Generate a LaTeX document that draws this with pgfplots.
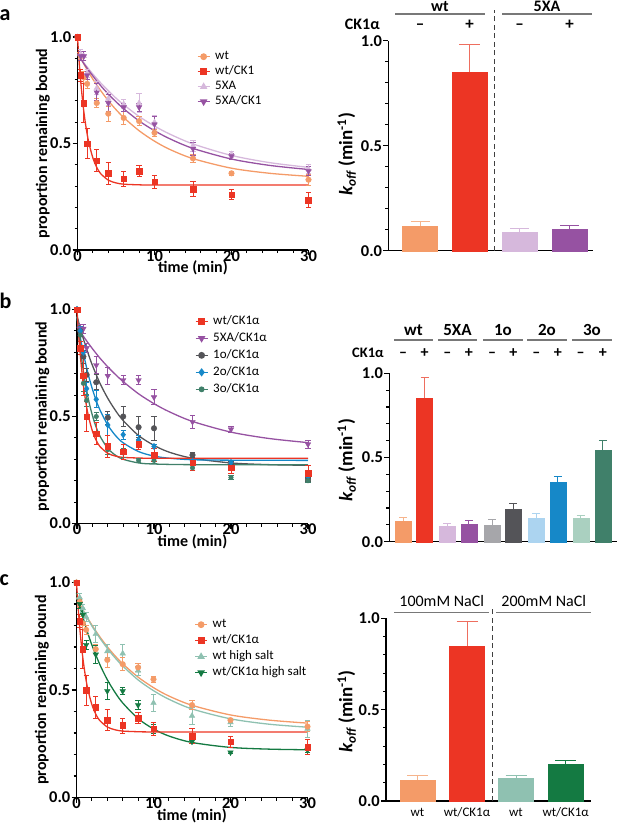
\documentclass[border=0pt]{standalone}
\usepackage{fontspec}
\setmainfont{Carlito}
\usepackage{pgfplots}
\pgfplotsset{compat=1.18}

\definecolor{wtC}{RGB}{244,155,104}
\definecolor{wtE}{RGB}{246,180,140}
\definecolor{redC}{RGB}{236,53,36}
\definecolor{redE}{RGB}{238,110,95}
\definecolor{lilC}{RGB}{214,184,220}
\definecolor{purC}{RGB}{150,82,162}
\definecolor{g1l}{RGB}{166,166,170}
\definecolor{g1d}{RGB}{84,84,88}
\definecolor{bl}{RGB}{172,212,240}
\definecolor{bd}{RGB}{22,136,200}
\definecolor{tl}{RGB}{170,208,192}
\definecolor{td}{RGB}{64,128,106}
\definecolor{hsl}{RGB}{143,193,177}
\definecolor{hsd}{RGB}{20,122,66}
\definecolor{grpline}{RGB}{120,120,120}

\tikzset{grp/.style={draw=grpline, line width=1.2pt}}
\newcommand{\tkf}{\fontsize{16.5}{17}\selectfont\bfseries}

\pgfplotsset{
 base/.style={scale only axis, clip=false,
   axis x line*=bottom, axis y line*=left,
   axis line style={line width=1.3pt, black},
   tick align=outside, major tick length=5pt, minor tick length=3pt,
   every tick/.style={black, line width=1.1pt},
   /pgf/number format/assume math mode=true,
   ymin=0, ymax=1, ytick={0,0.5,1},
   minor ytick={0.1,0.2,0.3,0.4,0.6,0.7,0.8,0.9},
   yticklabel={\tkf\pgfmathprintnumber[fixed,fixed zerofill,precision=1]{\tick}},
   xticklabel={\tkf\pgfmathprintnumber{\tick}},
   yticklabel style={inner xsep=0pt, xshift=-1pt},
   xticklabel style={inner ysep=0pt, yshift=5pt},
 },
 decay/.style={base, width=231pt, xmin=0, xmax=30, xtick={0,10,20,30},
   minor xtick={2,4,6,8,12,14,16,18,22,24,26,28},
   xlabel={time (min)}, ylabel={proportion remaining bound},
   label style={font=\fontsize{16}{18}\selectfont\bfseries},
   xlabel style={at={(axis description cs:0.5,-0.084)}, anchor=center},
   ylabel style={at={(axis description cs:-0.15,0.5)}, anchor=center},
   legend cell align=left,
   legend style={draw=none, fill=none, inner sep=0pt, anchor=north west,
     font=\fontsize{13}{14}\selectfont, column sep=3pt,
     nodes={inner ysep=0.5pt, inner xsep=2pt, text height=9pt, text depth=3pt}},
   legend image code/.code={\draw[mark repeat=2, mark phase=2, line width=1.2pt, ##1] plot coordinates {(0pt,0pt) (6pt,0pt) (12pt,0pt)};},
 },
 bars/.style={base, xmin=0, xtick=\empty,
   ylabel={{\itshape k}\textsubscript{\itshape off} (min\textsuperscript{-1})},
   label style={font=\fontsize{19}{21}\selectfont\bfseries},
 },
 mk/.style={only marks, color=#1, mark size=2.8pt, forget plot,
   /pgfplots/error bars/y dir=both, /pgfplots/error bars/y explicit,
   /pgfplots/error bars/error bar style={line width=0.9pt, draw=#1, solid},
   /pgfplots/error bars/error mark options={rotate=90, mark size=2.6pt, line width=0.9pt, draw=#1, solid}},
 fitc/.style={color=#1, line width=1.3pt, smooth, no marks, forget plot},
 bar/.style n args={3}{ybar, bar shift=0pt, fill=#1, draw=#1, line width=0.1pt, forget plot,
   /pgfplots/error bars/y dir=plus, /pgfplots/error bars/y explicit,
   /pgfplots/error bars/error bar style={line width=1pt, draw=#2},
   /pgfplots/error bars/error mark options={rotate=90, mark size=#3, line width=1pt, draw=#2}},
}

\begin{document}
\begin{tikzpicture}

% ===================== panel a, left =====================
\begin{axis}[decay, at={(77.5pt,-250pt)}, anchor=south west, height=213pt,
  legend style={at={(axis cs:15.5,0.939)}, row sep=2pt}]
\addplot[fitc=wtC] coordinates {(0,0.93) (1,0.862) (2,0.802) (3,0.749) (4,0.701) (5,0.659) (6,0.622) (8,0.560) (10,0.511) (12,0.472) (15,0.429) (20,0.384) (25,0.360) (30,0.346)};
\addplot[fitc=lilC] coordinates {(0,0.92) (1,0.871) (2,0.826) (3,0.785) (4,0.748) (5,0.713) (6,0.682) (8,0.627) (10,0.582) (12,0.544) (15,0.498) (20,0.444) (25,0.410) (30,0.388)};
\addplot[fitc=purC] coordinates {(0,0.92) (1,0.866) (2,0.817) (3,0.772) (4,0.732) (5,0.696) (6,0.663) (8,0.606) (10,0.560) (12,0.522) (15,0.477) (20,0.427) (25,0.397) (30,0.378)};
\addplot[fitc=redC] coordinates {(0,1.0) (0.25,0.867) (0.5,0.759) (0.75,0.672) (1,0.602) (1.25,0.545) (1.5,0.499) (2,0.432) (2.5,0.388) (3,0.359) (4,0.328) (5,0.315) (6,0.309) (8,0.306) (10,0.305) (20,0.305) (30,0.305)};
\addplot[mk=wtC, mark=*] coordinates {(0,1.0)+-(0,0) (0.42,0.91)+-(0,0.02) (0.83,0.81)+-(0,0.03) (1.25,0.78)+-(0,0.02) (2.5,0.69)+-(0,0.02) (4,0.64)+-(0,0.035) (6,0.62)+-(0,0.03) (8,0.605)+-(0,0.02) (10,0.55)+-(0,0.015) (15,0.43)+-(0,0.02) (20,0.36)+-(0,0.01) (30,0.33)+-(0,0.025)};
\addplot[mk=lilC, mark=triangle*, mark size=3.2pt] coordinates {(0,1.0)+-(0,0) (0.42,0.92)+-(0,0.02) (0.83,0.91)+-(0,0.02) (1.25,0.83)+-(0,0.02) (2.5,0.76)+-(0,0.03) (4,0.71)+-(0,0.03) (6,0.685)+-(0,0.02) (8,0.69)+-(0,0.045) (10,0.60)+-(0,0.03) (15,0.49)+-(0,0.025) (20,0.45)+-(0,0.015) (30,0.38)+-(0,0.02)};
\addplot[mk=purC, mark=triangle*, mark size=3.2pt, mark options={rotate=180}] coordinates {(0,1.0)+-(0,0) (0.42,0.91)+-(0,0.02) (0.83,0.91)+-(0,0.02) (1.25,0.82)+-(0,0.02) (2.5,0.74)+-(0,0.04) (4,0.69)+-(0,0.04) (6,0.67)+-(0,0.02) (8,0.67)+-(0,0.02) (10,0.59)+-(0,0.035) (15,0.475)+-(0,0.03) (20,0.44)+-(0,0.015) (30,0.37)+-(0,0.02)};
\addplot[mk=redC, mark=square*] coordinates {(0,1.0)+-(0,0) (0.42,0.82)+-(0,0.03) (0.83,0.69)+-(0,0.09) (1.25,0.50)+-(0,0.07) (2.5,0.42)+-(0,0.05) (4,0.36)+-(0,0.05) (6,0.335)+-(0,0.035) (8,0.37)+-(0,0.025) (10,0.32)+-(0,0.03) (15,0.285)+-(0,0.035) (20,0.26)+-(0,0.025) (30,0.235)+-(0,0.035)};
\addlegendimage{wtC, mark=*, mark size=2.8pt}\addlegendentry{wt}
\addlegendimage{redC, mark=square*, mark size=2.8pt}\addlegendentry{wt/CK1}
\addlegendimage{lilC, mark=triangle*, mark size=3.2pt}\addlegendentry{5XA}
\addlegendimage{purC, mark=triangle*, mark size=3.2pt, mark options={rotate=180}}\addlegendentry{5XA/CK1}
\end{axis}

% ===================== panel a, right =====================
\begin{axis}[bars, at={(388.3pt,-250.7pt)}, anchor=south west, width=204.7pt, height=210pt, xmax=204.7,
  ylabel style={at={(axis description cs:-0.203,0.46)}, anchor=center}]
\addplot[bar={wtC}{wtE}{9.5pt}, bar width=35] coordinates {(31.7,0.117)+-(0,0.021)};
\addplot[bar={redC}{redE}{10.5pt}, bar width=35] coordinates {(81.2,0.849)+-(0,0.134)};
\addplot[bar={lilC}{lilC}{9.5pt}, bar width=35] coordinates {(131.2,0.090)+-(0,0.015)};
\addplot[bar={purC}{purC}{9.5pt}, bar width=35] coordinates {(181.2,0.102)+-(0,0.017)};
\draw[black!75, line width=0.9pt, dash pattern=on 5pt off 3.5pt] (axis cs:105.7,0) -- (axis cs:105.7,1.146);
\draw[grp] (axis cs:6.7,1.127) -- (axis cs:96.7,1.127);
\draw[grp] (axis cs:113.7,1.127) -- (axis cs:203.7,1.127);
\node[font=\fontsize{16}{17}\selectfont\bfseries, anchor=base] at (axis cs:51.7,1.139) {wt};
\node[font=\fontsize{16}{17}\selectfont\bfseries, anchor=base] at (axis cs:158.7,1.139) {5XA};
\node[font=\fontsize{16}{17}\selectfont\bfseries, anchor=base east] at (axis cs:-5,1.054) {CK1α};
\node[font=\fontsize{17}{18}\selectfont\bfseries, anchor=base] at (axis cs:31.7,1.054) {–};
\node[font=\fontsize{17}{18}\selectfont\bfseries, anchor=base] at (axis cs:81.2,1.054) {+};
\node[font=\fontsize{17}{18}\selectfont\bfseries, anchor=base] at (axis cs:131.2,1.054) {–};
\node[font=\fontsize{17}{18}\selectfont\bfseries, anchor=base] at (axis cs:181.2,1.054) {+};
\end{axis}

% ===================== panel b, left =====================
\begin{axis}[decay, at={(77pt,-523.5pt)}, anchor=south west, height=214pt,
  legend style={at={(axis cs:15.3,0.976)}, row sep=4pt}]
\addplot[fitc=purC] coordinates {(0,0.92) (1,0.866) (2,0.817) (3,0.772) (4,0.732) (5,0.696) (6,0.663) (8,0.606) (10,0.560) (12,0.522) (15,0.477) (20,0.427) (25,0.397) (30,0.378)};
\addplot[fitc=g1d] coordinates {(0,0.97) (0.5,0.903) (1,0.843) (1.5,0.789) (2,0.739) (3,0.654) (4,0.585) (5,0.528) (6,0.481) (8,0.411) (10,0.365) (12,0.333) (15,0.305) (20,0.283) (25,0.275) (30,0.272)};
\addplot[fitc=bd] coordinates {(0,0.965) (0.5,0.857) (1,0.767) (1.5,0.691) (2,0.628) (2.5,0.574) (3,0.529) (4,0.460) (5,0.411) (6,0.377) (8,0.336) (10,0.315) (12,0.305) (15,0.298) (20,0.296) (30,0.295)};
\addplot[fitc=td] coordinates {(0,0.965) (0.25,0.876) (0.5,0.799) (0.75,0.732) (1,0.673) (1.5,0.577) (2,0.505) (2.5,0.449) (3,0.407) (4,0.351) (5,0.319) (6,0.300) (8,0.283) (10,0.278) (15,0.275) (30,0.275)};
\addplot[fitc=redC] coordinates {(0,1.0) (0.25,0.867) (0.5,0.759) (0.75,0.672) (1,0.602) (1.25,0.545) (1.5,0.499) (2,0.432) (2.5,0.388) (3,0.359) (4,0.328) (5,0.315) (6,0.309) (8,0.306) (10,0.305) (20,0.305) (30,0.305)};
\addplot[mk=purC, mark=triangle*, mark size=3.2pt, mark options={rotate=180}] coordinates {(0,1.0)+-(0,0) (0.42,0.91)+-(0,0.02) (0.83,0.91)+-(0,0.02) (1.25,0.82)+-(0,0.02) (2.5,0.74)+-(0,0.04) (4,0.69)+-(0,0.04) (6,0.67)+-(0,0.02) (8,0.67)+-(0,0.02) (10,0.59)+-(0,0.035) (15,0.475)+-(0,0.03) (20,0.44)+-(0,0.015) (30,0.37)+-(0,0.02)};
\addplot[mk=g1d, mark=*] coordinates {(0,1.0)+-(0,0) (0.42,0.90)+-(0,0.02) (0.83,0.78)+-(0,0.03) (1.25,0.695)+-(0,0.03) (2.5,0.66)+-(0,0.035) (4,0.495)+-(0,0.03) (6,0.50)+-(0,0.045) (8,0.45)+-(0,0.05) (10,0.445)+-(0,0.055) (15,0.32)+-(0,0.01) (20,0.275)+-(0,0.015) (30,0.205)+-(0,0.01)};
\addplot[mk=bd, mark=diamond*, mark size=3.2pt] coordinates {(0,1.0)+-(0,0) (0.42,0.90)+-(0,0.02) (0.83,0.80)+-(0,0.03) (1.25,0.63)+-(0,0.03) (2.5,0.58)+-(0,0.04) (4,0.46)+-(0,0.05) (6,0.415)+-(0,0.02) (8,0.39)+-(0,0.02) (10,0.36)+-(0,0.01) (15,0.29)+-(0,0.01) (20,0.285)+-(0,0.01) (30,0.22)+-(0,0.01)};
\addplot[mk=td, mark=*, mark size=2.3pt] coordinates {(0,1.0)+-(0,0) (0.42,0.88)+-(0,0.03) (0.83,0.655)+-(0,0.04) (1.25,0.575)+-(0,0.03) (2.5,0.50)+-(0,0.02) (4,0.345)+-(0,0.02) (6,0.33)+-(0,0.02) (8,0.295)+-(0,0.01) (10,0.295)+-(0,0.015) (15,0.26)+-(0,0.01) (20,0.215)+-(0,0.01) (30,0.20)+-(0,0.01)};
\addplot[mk=redC, mark=square*] coordinates {(0,1.0)+-(0,0) (0.42,0.82)+-(0,0.03) (0.83,0.69)+-(0,0.09) (1.25,0.50)+-(0,0.07) (2.5,0.42)+-(0,0.05) (4,0.36)+-(0,0.05) (6,0.335)+-(0,0.035) (8,0.37)+-(0,0.025) (10,0.32)+-(0,0.03) (15,0.285)+-(0,0.035) (20,0.26)+-(0,0.025) (30,0.235)+-(0,0.035)};
\addlegendimage{redC, mark=square*, mark size=2.8pt}\addlegendentry{wt/CK1α}
\addlegendimage{purC, mark=triangle*, mark size=3.2pt, mark options={rotate=180}}\addlegendentry{5XA/CK1α}
\addlegendimage{g1d, mark=*, mark size=2.8pt}\addlegendentry{1o/CK1α}
\addlegendimage{bd, mark=diamond*, mark size=3.2pt}\addlegendentry{2o/CK1α}
\addlegendimage{td, mark=*, mark size=2.3pt}\addlegendentry{3o/CK1α}
\end{axis}

% ===================== panel b, right =====================
\begin{axis}[bars, at={(389.3pt,-541.7pt)}, anchor=south west, width=227.4pt, height=168.4pt, xmax=227.4,
  ylabel style={at={(axis description cs:-0.187,0.485)}, anchor=center}]
\addplot[bar={wtC}{wtE}{4pt}, bar width=16] coordinates {(13.7,0.123)+-(0,0.022)};
\addplot[bar={redC}{redE}{4pt}, bar width=16] coordinates {(35.2,0.851)+-(0,0.125)};
\addplot[bar={lilC}{lilC}{4pt}, bar width=16] coordinates {(58.0,0.091)+-(0,0.018)};
\addplot[bar={purC}{purC}{4pt}, bar width=16] coordinates {(79.5,0.103)+-(0,0.024)};
\addplot[bar={g1l}{g1l}{4pt}, bar width=16] coordinates {(102.7,0.101)+-(0,0.028)};
\addplot[bar={g1d}{g1d}{4pt}, bar width=16] coordinates {(124.0,0.196)+-(0,0.032)};
\addplot[bar={bl}{bl}{4pt}, bar width=16] coordinates {(147.0,0.139)+-(0,0.029)};
\addplot[bar={bd}{bd}{4pt}, bar width=16] coordinates {(168.5,0.352)+-(0,0.038)};
\addplot[bar={tl}{tl}{4pt}, bar width=16] coordinates {(191.4,0.139)+-(0,0.019)};
\addplot[bar={td}{td}{4pt}, bar width=16] coordinates {(213.5,0.547)+-(0,0.055)};
\draw[grp] (axis cs:4.7,1.198) -- (axis cs:43.7,1.198);
\draw[grp] (axis cs:48.7,1.198) -- (axis cs:87.7,1.198);
\draw[grp] (axis cs:93.7,1.198) -- (axis cs:133.7,1.198);
\draw[grp] (axis cs:137.7,1.198) -- (axis cs:177.7,1.198);
\draw[grp] (axis cs:182.7,1.198) -- (axis cs:222.7,1.198);
\node[font=\fontsize{17}{18}\selectfont\bfseries, anchor=base] at (axis cs:24.2,1.227) {wt};
\node[font=\fontsize{17}{18}\selectfont\bfseries, anchor=base] at (axis cs:68.2,1.227) {5XA};
\node[font=\fontsize{17}{18}\selectfont\bfseries, anchor=base] at (axis cs:113.7,1.227) {1o};
\node[font=\fontsize{17}{18}\selectfont\bfseries, anchor=base] at (axis cs:157.7,1.227) {2o};
\node[font=\fontsize{17}{18}\selectfont\bfseries, anchor=base] at (axis cs:202.7,1.227) {3o};
\node[font=\fontsize{14.5}{15}\selectfont\bfseries, anchor=base east] at (axis cs:-2,1.095) {CK1α};
\node[font=\fontsize{16}{17}\selectfont\bfseries, anchor=base] at (axis cs:13.7,1.095) {–};
\node[font=\fontsize{16}{17}\selectfont\bfseries, anchor=base] at (axis cs:58.0,1.095) {–};
\node[font=\fontsize{16}{17}\selectfont\bfseries, anchor=base] at (axis cs:102.7,1.095) {–};
\node[font=\fontsize{16}{17}\selectfont\bfseries, anchor=base] at (axis cs:147.0,1.095) {–};
\node[font=\fontsize{16}{17}\selectfont\bfseries, anchor=base] at (axis cs:191.4,1.095) {–};
\node[font=\fontsize{16}{17}\selectfont\bfseries, anchor=base] at (axis cs:35.2,1.095) {+};
\node[font=\fontsize{16}{17}\selectfont\bfseries, anchor=base] at (axis cs:79.5,1.095) {+};
\node[font=\fontsize{16}{17}\selectfont\bfseries, anchor=base] at (axis cs:124.0,1.095) {+};
\node[font=\fontsize{16}{17}\selectfont\bfseries, anchor=base] at (axis cs:168.5,1.095) {+};
\node[font=\fontsize{16}{17}\selectfont\bfseries, anchor=base] at (axis cs:213.5,1.095) {+};
\end{axis}

% ===================== panel c, left =====================
\begin{axis}[decay, at={(76.5pt,-797.5pt)}, anchor=south west, height=215pt,
  legend style={at={(axis cs:15.3,0.835)}, row sep=3pt}]
\addplot[fitc=wtC] coordinates {(0,0.93) (1,0.862) (2,0.802) (3,0.749) (4,0.701) (5,0.659) (6,0.622) (8,0.560) (10,0.511) (12,0.472) (15,0.429) (20,0.384) (25,0.360) (30,0.346)};
\addplot[fitc=hsl] coordinates {(0,0.93) (1,0.860) (2,0.798) (3,0.743) (4,0.694) (5,0.650) (6,0.612) (8,0.547) (10,0.497) (12,0.457) (15,0.412) (20,0.366) (25,0.341) (30,0.327)};
\addplot[fitc=hsd] coordinates {(0,0.95) (0.5,0.881) (1,0.818) (1.5,0.761) (2,0.709) (3,0.621) (4,0.548) (5,0.489) (6,0.440) (8,0.367) (10,0.319) (12,0.286) (15,0.256) (20,0.233) (25,0.225) (30,0.222)};
\addplot[fitc=redC] coordinates {(0,1.0) (0.25,0.867) (0.5,0.759) (0.75,0.672) (1,0.602) (1.25,0.545) (1.5,0.499) (2,0.432) (2.5,0.388) (3,0.359) (4,0.328) (5,0.315) (6,0.309) (8,0.306) (10,0.305) (20,0.305) (30,0.305)};
\addplot[mk=hsl, mark=triangle*, mark size=3.2pt] coordinates {(0,1.0)+-(0,0) (0.42,0.93)+-(0,0.02) (0.83,0.88)+-(0,0.02) (1.25,0.84)+-(0,0.02) (2.5,0.76)+-(0,0.04) (4,0.68)+-(0,0.03) (6,0.67)+-(0,0.04) (8,0.59)+-(0,0.02) (10,0.44)+-(0,0.04) (15,0.38)+-(0,0.04) (20,0.35)+-(0,0.02) (30,0.32)+-(0,0.04)};
\addplot[mk=wtC, mark=*] coordinates {(0,1.0)+-(0,0) (0.42,0.91)+-(0,0.02) (0.83,0.81)+-(0,0.03) (1.25,0.78)+-(0,0.02) (2.5,0.69)+-(0,0.02) (4,0.64)+-(0,0.035) (6,0.62)+-(0,0.03) (8,0.605)+-(0,0.02) (10,0.55)+-(0,0.015) (15,0.43)+-(0,0.02) (20,0.36)+-(0,0.01) (30,0.33)+-(0,0.025)};
\addplot[mk=hsd, mark=triangle*, mark size=3.2pt, mark options={rotate=180}] coordinates {(0,1.0)+-(0,0) (0.42,0.90)+-(0,0.02) (0.83,0.85)+-(0,0.03) (1.25,0.71)+-(0,0.02) (2.5,0.665)+-(0,0.04) (4,0.495)+-(0,0.04) (6,0.495)+-(0,0.015) (8,0.43)+-(0,0.02) (10,0.32)+-(0,0.02) (15,0.26)+-(0,0.01) (20,0.21)+-(0,0.005) (30,0.22)+-(0,0.01)};
\addplot[mk=redC, mark=square*] coordinates {(0,1.0)+-(0,0) (0.42,0.82)+-(0,0.03) (0.83,0.69)+-(0,0.09) (1.25,0.50)+-(0,0.07) (2.5,0.42)+-(0,0.05) (4,0.36)+-(0,0.05) (6,0.335)+-(0,0.035) (8,0.37)+-(0,0.025) (10,0.32)+-(0,0.03) (15,0.285)+-(0,0.035) (20,0.26)+-(0,0.025) (30,0.235)+-(0,0.035)};
\addlegendimage{wtC, mark=*, mark size=2.8pt}\addlegendentry{wt}
\addlegendimage{redC, mark=square*, mark size=2.8pt}\addlegendentry{wt/CK1α}
\addlegendimage{hsl, mark=triangle*, mark size=3.2pt}\addlegendentry{wt high salt}
\addlegendimage{hsd, mark=triangle*, mark size=3.2pt, mark options={rotate=180}}\addlegendentry{wt/CK1α high salt}
\end{axis}

% ===================== panel c, right =====================
\begin{axis}[bars, at={(386pt,-801pt)}, anchor=south west, width=204.7pt, height=182.7pt, xmax=204.7,
  ylabel style={at={(axis description cs:-0.192,0.49)}, anchor=center}]
\addplot[bar={wtC}{wtE}{10.5pt}, bar width=35] coordinates {(31.5,0.115)+-(0,0.022)};
\addplot[bar={redC}{redE}{10.5pt}, bar width=35] coordinates {(81,0.849)+-(0,0.133)};
\addplot[bar={hsl}{hsl}{10.5pt}, bar width=35] coordinates {(130,0.124)+-(0,0.018)};
\addplot[bar={hsd}{hsd}{10.5pt}, bar width=35] coordinates {(179.7,0.201)+-(0,0.020)};
\draw[black!75, line width=0.9pt, dash pattern=on 5pt off 3.5pt] (axis cs:106.3,0) -- (axis cs:106.3,1.063);
\draw[grp] (axis cs:8,1.033) -- (axis cs:103,1.033);
\draw[grp] (axis cs:110,1.033) -- (axis cs:204.7,1.033);
\node[font=\fontsize{16}{17}\selectfont, anchor=base] at (axis cs:55.7,1.063) {100mM NaCl};
\node[font=\fontsize{16}{17}\selectfont, anchor=base] at (axis cs:157.7,1.063) {200mM NaCl};
\node[font=\fontsize{13}{14}\selectfont, anchor=base] at (axis cs:31.5,-0.086) {wt};
\node[font=\fontsize{13}{14}\selectfont, anchor=base] at (axis cs:81,-0.086) {wt/CK1α};
\node[font=\fontsize{13}{14}\selectfont, anchor=base] at (axis cs:130,-0.086) {wt};
\node[font=\fontsize{13}{14}\selectfont, anchor=base] at (axis cs:179.7,-0.086) {wt/CK1α};
\end{axis}

% panel letters
\node[anchor=base west, inner sep=0pt, font=\fontsize{22}{22}\selectfont\bfseries] at (-0.5pt,-20.5pt) {a};
\node[anchor=base west, inner sep=0pt, font=\fontsize{22}{22}\selectfont\bfseries] at (-0.5pt,-308.3pt) {b};
\node[anchor=base west, inner sep=0pt, font=\fontsize{22}{22}\selectfont\bfseries] at (-0.5pt,-585pt) {c};

\pgfresetboundingbox
\path[use as bounding box] (0pt,0pt) rectangle (617pt,-830pt);
\end{tikzpicture}
\end{document}
